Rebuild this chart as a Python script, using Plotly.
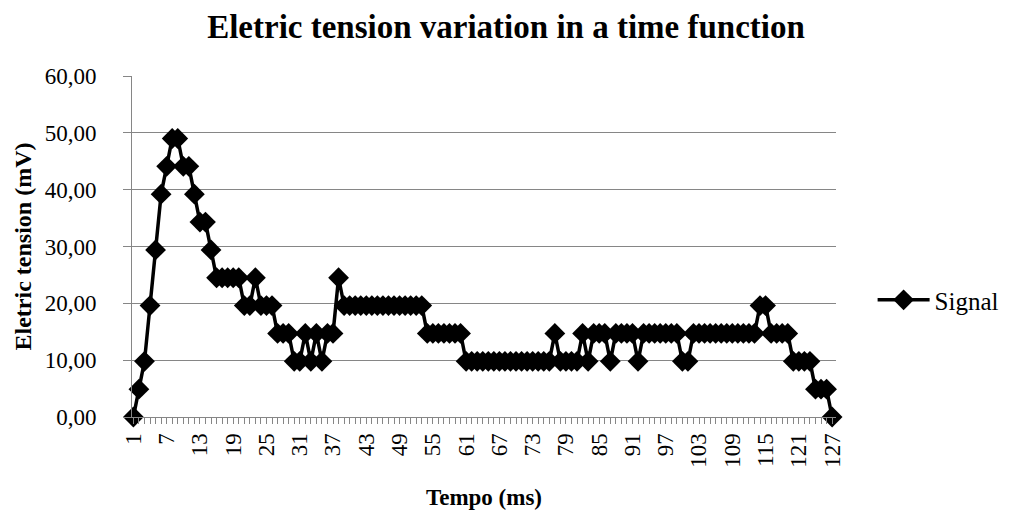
import plotly.graph_objects as go

# ---- data ----
tempo_ms = list(range(1, 128))
signal_mv = (
    [0, 4.9, 9.8, 19.6, 29.4, 39.2, 44.1, 49, 49, 44.1, 44.1, 39.2, 34.3, 34.3, 29.4]
    + [24.5] * 5 + [19.6] * 2 + [24.5] + [19.6] * 3
    + [14.7] * 3 + [9.8, 9.8, 14.7, 9.8, 14.7, 9.8] + [14.7] * 2 + [24.5]
    + [19.6] * 15 + [14.7] * 7 + [9.8] * 16
    + [14.7] + [9.8] * 4 + [14.7] + [9.8] + [14.7] * 3 + [9.8] + [14.7] * 4 + [9.8]
    + [14.7] * 7 + [9.8] * 2 + [14.7] * 12 + [19.6] * 2 + [14.7] * 4
    + [9.8] * 4 + [4.9] * 3 + [0]
)
x_tick_vals = tempo_ms
x_tick_text = [str(v) if (v - 1) % 6 == 0 else "" for v in tempo_ms]
y_tick_vals = [0, 10, 20, 30, 40, 50, 60]

FONT = "Liberation Serif, Times New Roman, serif"

fig = go.Figure()
fig.add_trace(go.Scatter(
    x=tempo_ms, y=signal_mv, name="Signal", mode="lines+markers",
    line=dict(color="black", width=3.5),
    marker=dict(symbol="diamond", size=16, color="black"),
    cliponaxis=False,
))

fig.update_layout(
    width=1012, height=516,
    paper_bgcolor="white", plot_bgcolor="white",
    margin=dict(l=132, r=176, t=76, b=99, autoexpand=False),
    separators=",.",
    font=dict(family=FONT, size=23, color="black"),
    title=dict(text="<b>Eletric tension variation in a time function</b>",
               x=0.5, xanchor="center", y=1 - 26 / 516, yanchor="middle",
               font=dict(family=FONT, size=33, color="black")),
    showlegend=True,
    legend=dict(x=1.052, y=0.343, xanchor="left", yanchor="middle",
                itemwidth=52,
                font=dict(family=FONT, size=25, color="black"),
                bgcolor="rgba(0,0,0,0)"),
)

fig.update_xaxes(
    range=[0.75, 127.7], tickmode="array", tickvals=x_tick_vals, ticktext=x_tick_text,
    tickangle=-90, ticks="outside", ticklen=6, tickcolor="#868686", tickwidth=1,
    showline=True, linecolor="#868686", linewidth=1, showgrid=False, zeroline=False,
    tickfont=dict(family=FONT, size=23, color="black"),
    title=dict(text="<b>Tempo (ms)</b>", font=dict(family=FONT, size=23, color="black"), standoff=22),
)
fig.update_yaxes(
    range=[0, 60], tickmode="array", tickvals=y_tick_vals, tickformat=".2f",
    ticks="outside", ticklen=8, tickcolor="#868686", tickwidth=1,
    showline=True, linecolor="#868686", linewidth=1,
    showgrid=True, gridcolor="#868686", gridwidth=1, zeroline=False,
    ticklabelstandoff=22,
    tickfont=dict(family=FONT, size=23, color="black"),
    title=dict(text="<b>Eletric tension (mV)</b>", font=dict(family=FONT, size=24, color="black"), standoff=6),
)

fig.write_html("out.html")
